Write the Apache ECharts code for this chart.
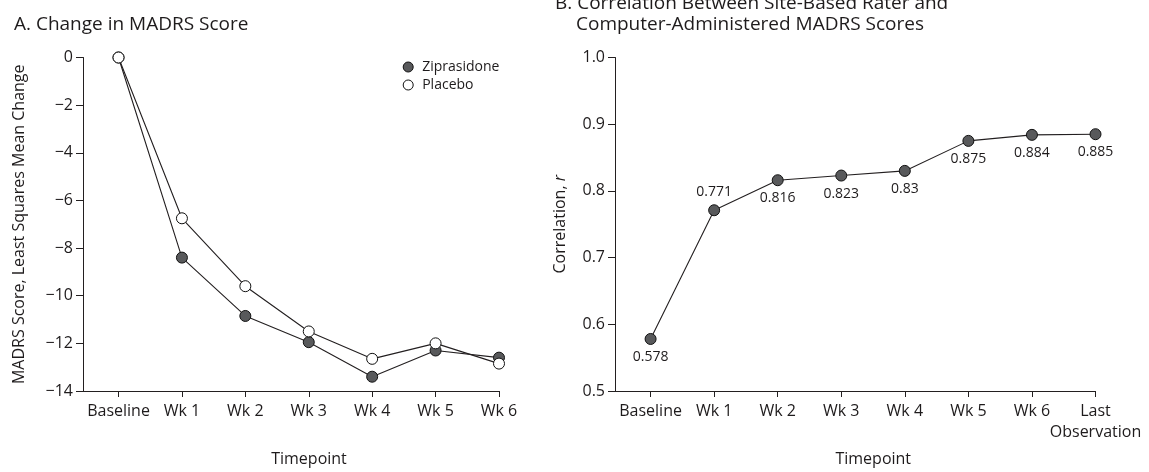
<!DOCTYPE html>
<html><head><meta charset="utf-8">
<script src="https://cdn.jsdelivr.net/npm/echarts@6/dist/echarts.min.js"></script>
<style>html,body{margin:0;padding:0;background:#fff}#c{width:1149px;height:472px}</style>
</head><body><div id="c"></div>
<script>
// ---- data ----
const timepointsA = ['Baseline', 'Wk 1', 'Wk 2', 'Wk 3', 'Wk 4', 'Wk 5', 'Wk 6'];
const ziprasidone = [0, -8.4, -10.85, -11.95, -13.4, -12.3, -12.6];
const placebo = [0, -6.75, -9.6, -11.5, -12.65, -12.0, -12.85];
const yTicksA = [-14, -12, -10, -8, -6, -4, -2, 0];

const timepointsB = ['Baseline', 'Wk 1', 'Wk 2', 'Wk 3', 'Wk 4', 'Wk 5', 'Wk 6', 'Last\nObservation'];
const correlation = [0.578, 0.771, 0.816, 0.823, 0.83, 0.875, 0.884, 0.885];
const labelSideB = ['bottom', 'top', 'bottom', 'bottom', 'bottom', 'bottom', 'bottom', 'bottom'];
const yTicksB = [0.5, 0.6, 0.7, 0.8, 0.9, 1.0];

// ---- styles ----
const FONT = "'Open Sans', 'Noto Sans', sans-serif";
const TXT = '#1e1b1c';
const axisLine = { show: true, onZero: false, lineStyle: { color: '#231f20', width: 1 } };
const idxA = timepointsA.map((_, i) => i);
const idxB = timepointsB.map((_, i) => i);
const lastB = idxB.length - 1;

const chart = echarts.init(document.getElementById('c'));
chart.setOption({
  animation: false,
  backgroundColor: '#fff',
  textStyle: { fontFamily: FONT, color: TXT },
  title: [
    { text: 'A. Change in MADRS Score', left: 9, top: 10,
      textStyle: { fontFamily: FONT, fontSize: 19, fontWeight: 'normal', color: TXT } },
    { text: 'B. Correlation Between Site-Based Rater and', left: 550, top: -11,
      textStyle: { fontFamily: FONT, fontSize: 19, fontWeight: 'normal', color: TXT } },
    { text: 'Computer-Administered MADRS Scores', left: 571, top: 10,
      textStyle: { fontFamily: FONT, fontSize: 19, fontWeight: 'normal', color: TXT } }
  ],
  legend: {
    orient: 'vertical', left: 397.7, top: 55,
    itemWidth: 18, itemHeight: 10, itemGap: 4, icon: 'circle',
    textStyle: { fontFamily: FONT, fontSize: 14, color: TXT },
    data: [
      { name: 'Ziprasidone', itemStyle: { color: '#58595b', borderColor: '#111', borderWidth: 1 } },
      { name: 'Placebo', itemStyle: { color: '#fff', borderColor: '#111', borderWidth: 1 } }
    ]
  },
  grid: [
    { left: 83, top: 57.5, width: 416, height: 336 },
    { left: 615, top: 57.5, width: 480.5, height: 336 }
  ],
  xAxis: [
    { type: 'value', gridIndex: 0, min: -0.56, max: timepointsA.length - 1,
      axisLine: axisLine, splitLine: { show: false },
      axisTick: { show: true, customValues: idxA, length: 6, lineStyle: { color: '#231f20' } },
      axisLabel: { customValues: idxA, showMaxLabel: true, formatter: v => timepointsA[Math.round(v)],
        fontSize: 16, margin: 10, color: TXT, fontFamily: FONT, lineHeight: 21 },
      name: 'Timepoint', nameLocation: 'middle', nameGap: 60,
      nameTextStyle: { fontSize: 16, color: TXT, fontFamily: FONT, padding: [0, 0, 0, 36] } },
    { type: 'value', gridIndex: 1, min: -0.56, max: lastB,
      axisLine: axisLine, splitLine: { show: false },
      axisTick: { show: true, customValues: idxB, length: 6, lineStyle: { color: '#231f20' } },
      axisLabel: { customValues: idxB.slice(0, lastB), showMaxLabel: true, showMinLabel: true,
        formatter: v => timepointsB[Math.round(v)], fontSize: 16, margin: 10, color: TXT, fontFamily: FONT, lineHeight: 21 },
      name: 'Timepoint', nameLocation: 'middle', nameGap: 60,
      nameTextStyle: { fontSize: 16, color: TXT, fontFamily: FONT, padding: [0, 0, 0, 36] } },
    { type: 'value', gridIndex: 1, min: -0.56, max: lastB, position: 'bottom',
      axisLine: { show: false, onZero: false }, splitLine: { show: false }, axisTick: { show: false },
      axisLabel: { customValues: [lastB], showMaxLabel: true,
        formatter: v => timepointsB[Math.round(v)], fontSize: 16, margin: 10, color: TXT, fontFamily: FONT, lineHeight: 21 } }
  ],
  yAxis: [
    { type: 'value', gridIndex: 0, min: yTicksA[0], max: yTicksA[yTicksA.length - 1], interval: 2,
      axisLine: axisLine, splitLine: { show: false },
      axisTick: { show: true, length: 7, lineStyle: { color: '#231f20' } },
      axisLabel: { formatter: v => (v < 0 ? '\u2212' + Math.abs(v) : String(v)), fontSize: 16, margin: 10, color: TXT, fontFamily: FONT },
      name: 'MADRS Score, Least Squares Mean Change', nameLocation: 'middle', nameGap: 56,
      nameTextStyle: { fontSize: 16, color: TXT, fontFamily: FONT } },
    { type: 'value', gridIndex: 1, min: yTicksB[0], max: yTicksB[yTicksB.length - 1], interval: 0.1,
      axisLine: axisLine, splitLine: { show: false },
      axisTick: { show: true, length: 7, lineStyle: { color: '#231f20' } },
      axisLabel: { formatter: v => v.toFixed(1), fontSize: 16, margin: 10, color: TXT, fontFamily: FONT },
      name: 'Correlation, {i|r}', nameLocation: 'middle', nameGap: 47,
      nameTextStyle: { fontSize: 16, color: TXT, fontFamily: FONT,
        rich: { i: { fontStyle: 'italic', fontSize: 16, color: TXT, fontFamily: FONT } } } }
  ],
  series: [
    { name: 'Ziprasidone', type: 'line', xAxisIndex: 0, yAxisIndex: 0,
      data: ziprasidone.map((v, i) => [i, v]),
      symbol: 'circle', symbolSize: 11,
      itemStyle: { color: '#58595b', borderColor: '#111', borderWidth: 1 },
      lineStyle: { color: '#231f20', width: 1.1 }, z: 2 },
    { name: 'Placebo', type: 'line', xAxisIndex: 0, yAxisIndex: 0,
      data: placebo.map((v, i) => [i, v]),
      symbol: 'circle', symbolSize: 11,
      itemStyle: { color: '#fff', borderColor: '#111', borderWidth: 1 },
      lineStyle: { color: '#231f20', width: 1.1 }, z: 3 },
    { name: 'Correlation', type: 'line', xAxisIndex: 1, yAxisIndex: 1,
      data: correlation.map((v, i) => ({ value: [i, v], label: { position: labelSideB[i] } })),
      symbol: 'circle', symbolSize: 11,
      itemStyle: { color: '#58595b', borderColor: '#111', borderWidth: 1 },
      lineStyle: { color: '#231f20', width: 1.1 },
      label: { show: true, distance: 5, fontSize: 14, color: TXT, fontFamily: FONT,
        formatter: p => String(correlation[p.dataIndex]) } }
  ]
});
</script>
</body></html>
